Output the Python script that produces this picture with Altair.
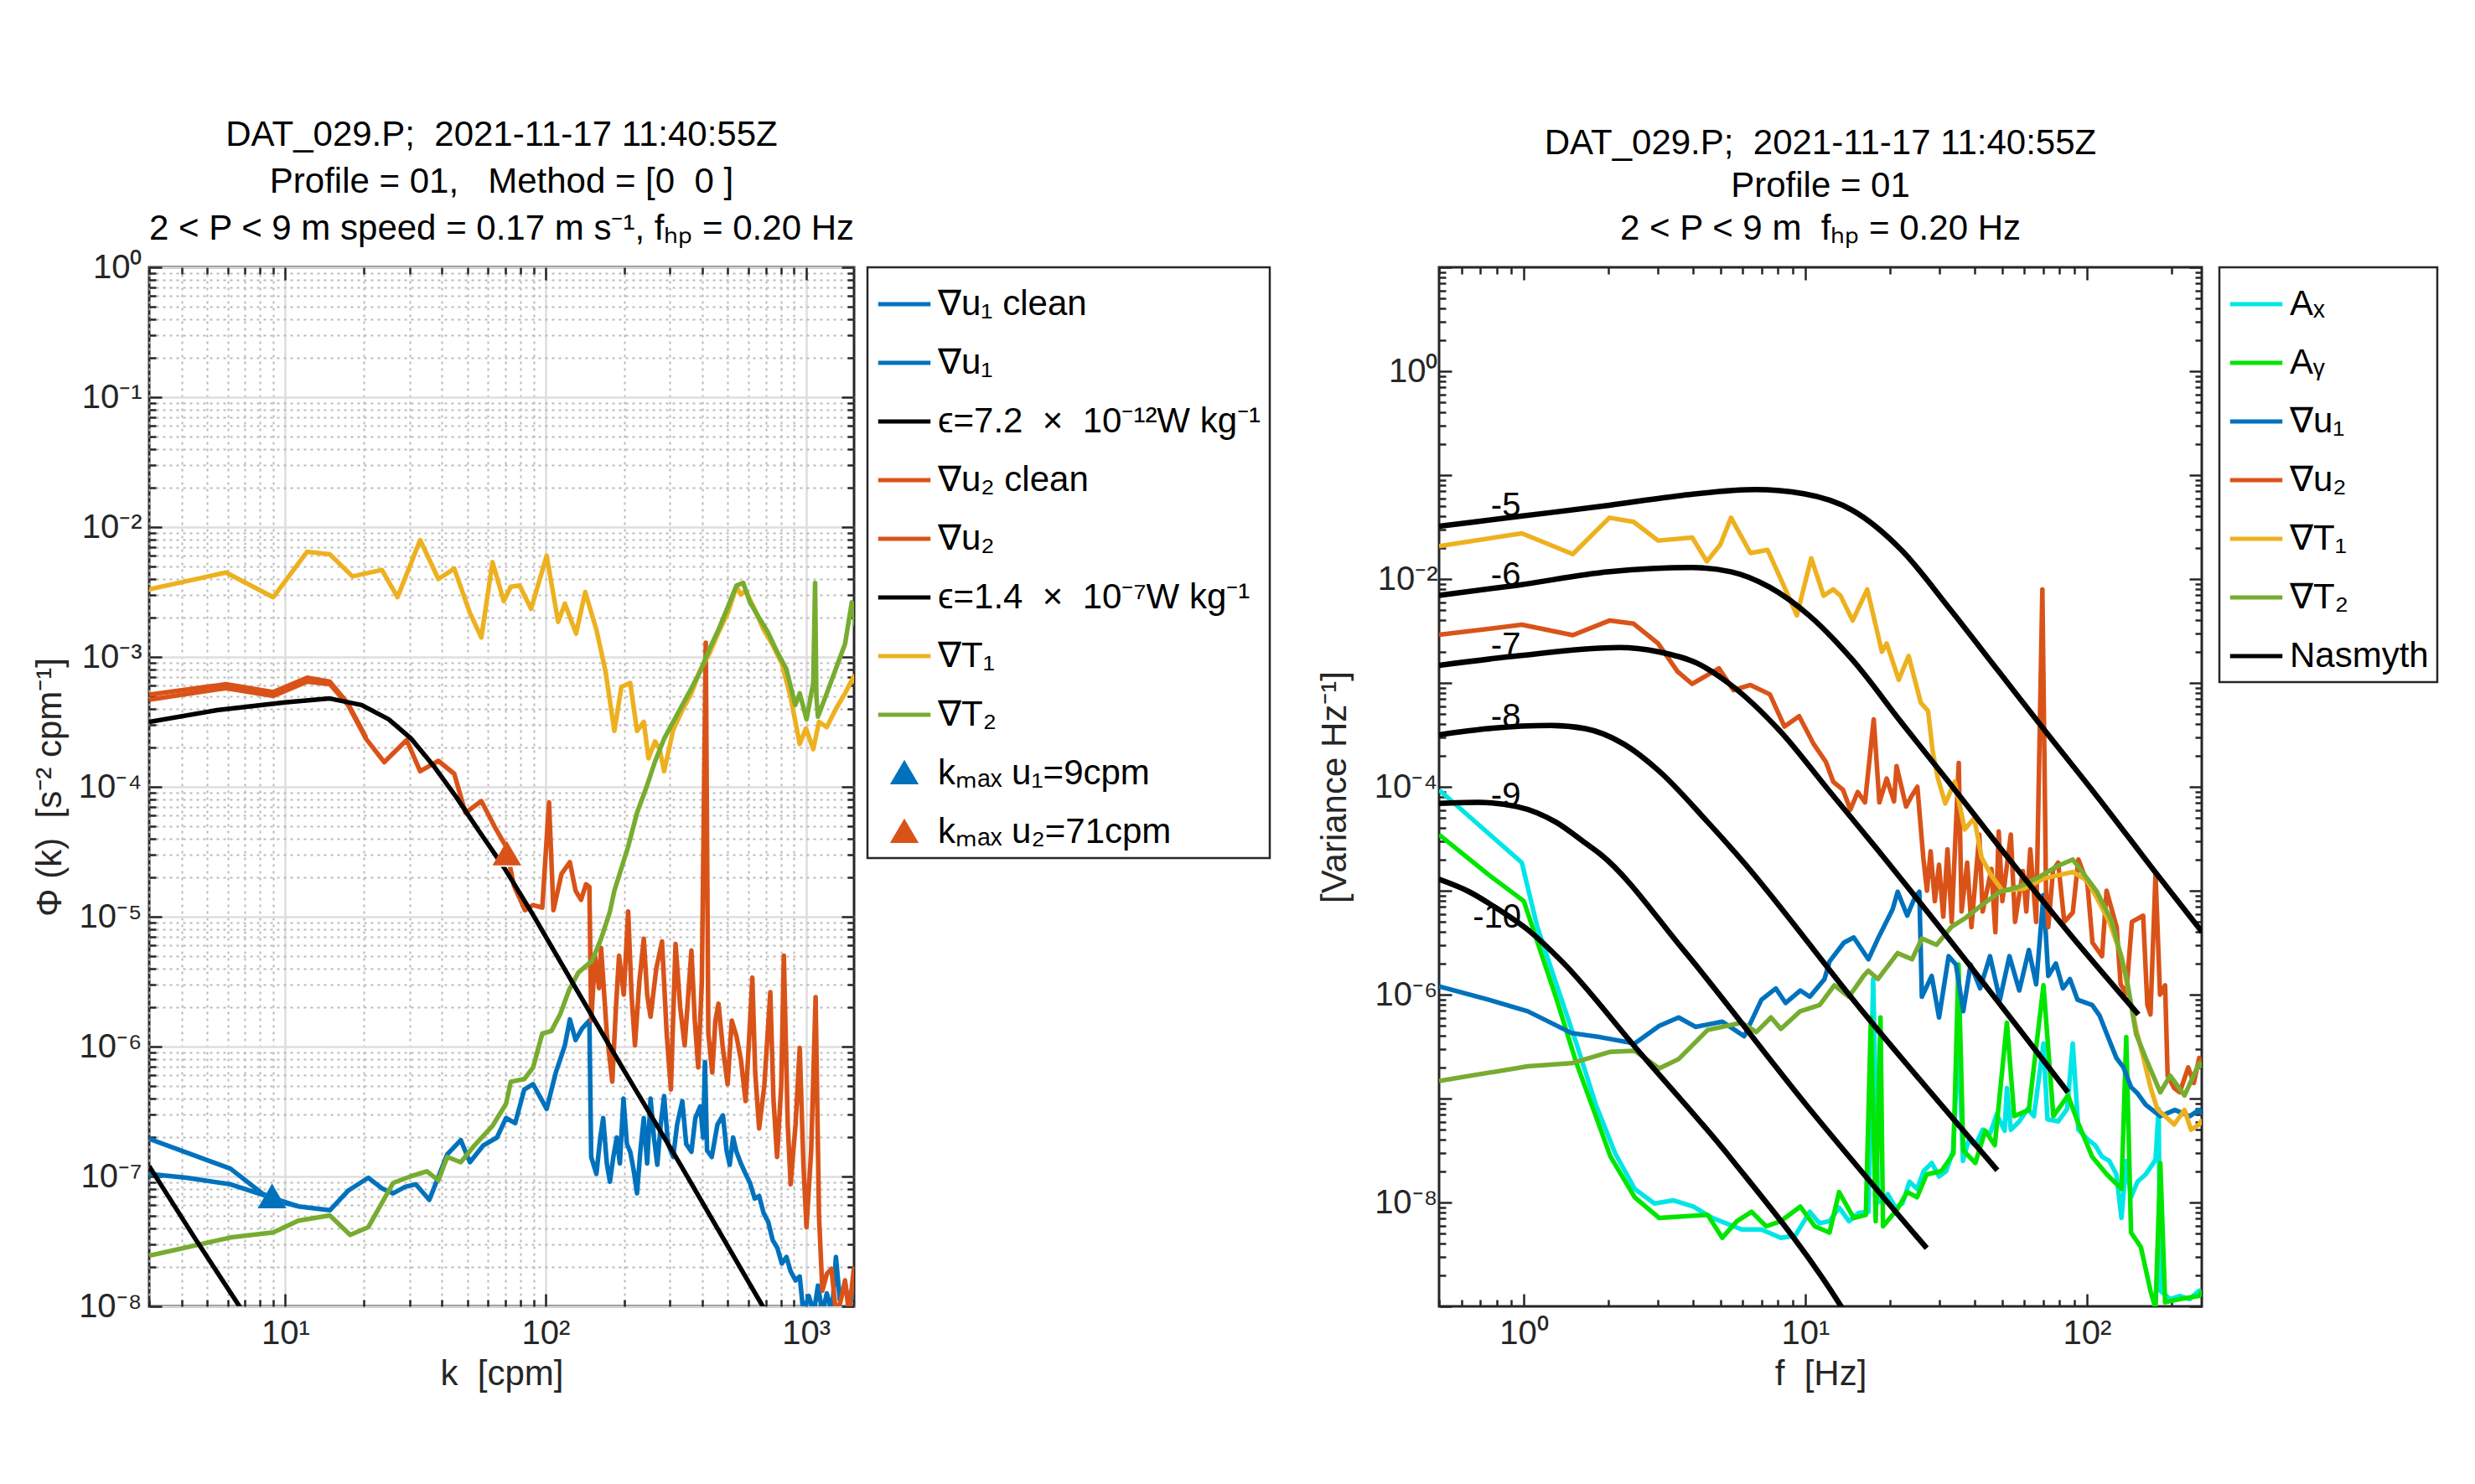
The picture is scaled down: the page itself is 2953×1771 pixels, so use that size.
import altair as alt
import pandas as pd

FONT = "Liberation Sans"
NB = "\u00a0"

# ---------------- LEFT PANEL: (log10 k [cpm], log10 Phi) ----------------
U1_CLEAN = [(0.477,-6.98),(0.62,-7.01),(0.789,-7.06),(0.911,-7.14),(1.05,-7.23),(1.171,-7.26),(1.241,-7.11),
    (1.319,-7.01),(1.37,-7.09),(1.414,-7.13),(1.46,-7.08),(1.501,-7.06),(1.553,-7.18),(1.622,-6.83),(1.674,-6.72),
    (1.709,-6.89),(1.761,-6.76),(1.813,-6.70),(1.848,-6.55),(1.883,-6.59),(1.918,-6.33),(1.952,-6.29),(2.004,-6.48),
    (2.039,-6.20),(2.074,-5.99),(2.093,-5.79),(2.115,-5.95),(2.14,-5.86),(2.168,-5.80),(2.175,-6.85),(2.195,-6.98),
    (2.21,-6.70),(2.221,-6.55),(2.235,-6.90),(2.247,-7.04),(2.26,-6.85),(2.273,-6.70),(2.285,-6.90),(2.299,-6.40),
    (2.312,-6.75),(2.325,-6.81),(2.338,-6.95),(2.351,-7.13),(2.364,-6.80),(2.377,-6.55),(2.39,-6.90),(2.403,-6.40),
    (2.416,-6.70),(2.429,-6.91),(2.442,-6.60),(2.455,-6.38),(2.47,-6.75),(2.49,-6.85),(2.505,-6.60),(2.525,-6.42),
    (2.54,-6.75),(2.56,-6.81),(2.575,-6.55),(2.594,-6.46),(2.605,-6.70),(2.612,-6.12),(2.62,-6.80),(2.638,-6.85),
    (2.66,-6.60),(2.681,-6.53),(2.695,-6.80),(2.707,-6.91),(2.72,-6.70),(2.733,-6.81),(2.75,-6.90),(2.768,-6.98),
    (2.785,-7.05),(2.803,-7.17),(2.82,-7.15),(2.837,-7.28),(2.855,-7.35),(2.872,-7.49),(2.89,-7.55),(2.907,-7.67),
    (2.925,-7.62),(2.941,-7.73),(2.96,-7.80),(2.976,-7.77),(2.99,-8.05),(3.011,-7.92),(3.03,-8.05),(3.046,-7.84),
    (3.063,-8.05),(3.08,-7.90),(3.1,-8.05),(3.115,-7.62),(3.13,-7.95),(3.15,-7.82),(3.165,-8.0),(3.184,-7.88),(3.19,-7.95)]
U1_RAW = [(0.477,-6.71),(0.789,-6.94),(0.911,-7.13),(0.99,-7.20),(1.05,-7.23)]
EPS_LOW = [(0.477,-6.92),(0.651,-7.47),(0.824,-8.0),(0.9,-8.25)]
U2_CLEAN = [(0.477,-3.33),(0.772,-3.24),(0.954,-3.30),(1.084,-3.19),(1.171,-3.21),(1.241,-3.37),(1.31,-3.63),
    (1.38,-3.81),(1.466,-3.64),(1.518,-3.88),(1.588,-3.80),(1.649,-3.90),(1.692,-4.20),(1.753,-4.11),(1.805,-4.31),
    (1.848,-4.46),(1.878,-4.76),(1.921,-4.95),(1.952,-4.91),(1.987,-4.93),(2.013,-4.12),(2.03,-4.95),(2.061,-4.67),
    (2.093,-4.58),(2.115,-4.80),(2.136,-4.87),(2.155,-4.75),(2.168,-4.77),(2.175,-5.80),(2.19,-5.30),(2.205,-5.55),
    (2.213,-5.24),(2.235,-5.90),(2.256,-6.27),(2.27,-5.70),(2.282,-5.30),(2.3,-5.60),(2.317,-4.96),(2.33,-5.60),
    (2.343,-5.99),(2.36,-5.50),(2.377,-5.17),(2.39,-5.60),(2.403,-5.77),(2.425,-5.40),(2.447,-5.19),(2.465,-5.90),
    (2.481,-6.33),(2.499,-5.21),(2.517,-5.70),(2.534,-5.99),(2.56,-5.26),(2.573,-5.80),(2.586,-6.16),(2.6,-5.50),
    (2.615,-2.89),(2.625,-5.90),(2.64,-6.20),(2.652,-5.80),(2.664,-5.67),(2.68,-6.0),(2.699,-6.29),(2.715,-5.80),
    (2.733,-5.92),(2.75,-6.10),(2.768,-6.42),(2.78,-6.0),(2.794,-5.47),(2.805,-6.20),(2.82,-6.63),(2.84,-6.30),
    (2.863,-5.58),(2.875,-6.40),(2.889,-6.85),(2.905,-6.30),(2.915,-5.30),(2.93,-6.60),(2.941,-7.06),(2.96,-6.60),
    (2.976,-6.01),(2.99,-6.90),(3.002,-7.39),(3.02,-6.80),(3.037,-5.62),(3.05,-7.30),(3.063,-7.88),(3.08,-7.75),
    (3.098,-7.71),(3.115,-8.05),(3.132,-7.97),(3.15,-7.80),(3.165,-8.05),(3.184,-7.71),(3.19,-7.90)]
U2_RAW = [(0.477,-3.29),(0.772,-3.21),(0.954,-3.27),(1.084,-3.16),(1.171,-3.19),(1.241,-3.36),(1.31,-3.62)]
EPS_HIGH = [(0.477,-3.50),(0.737,-3.41),(0.998,-3.35),(1.171,-3.32),(1.293,-3.37),(1.397,-3.48),(1.484,-3.63),
    (1.57,-3.84),(1.657,-4.08),(1.744,-4.34),(1.84,-4.62),(1.95,-4.98),(2.104,-5.51),(2.3,-6.18),(2.512,-6.89),
    (2.834,-8.0),(2.9,-8.23)]
T1_K = [(0.477,-2.48),(0.772,-2.35),(0.954,-2.54),(1.084,-2.19),(1.171,-2.21),(1.258,-2.38),(1.371,-2.33),
    (1.431,-2.54),(1.518,-2.10),(1.588,-2.40),(1.649,-2.32),(1.709,-2.66),(1.753,-2.85),(1.796,-2.27),(1.839,-2.57),
    (1.866,-2.46),(1.9,-2.45),(1.944,-2.63),(2.004,-2.22),(2.048,-2.73),(2.074,-2.59),(2.117,-2.82),(2.152,-2.50),
    (2.195,-2.79),(2.23,-3.11),(2.264,-3.57),(2.291,-3.23),(2.325,-3.20),(2.351,-3.57),(2.377,-3.50),(2.395,-3.78),
    (2.42,-3.65),(2.438,-3.71),(2.455,-3.88),(2.475,-3.70),(2.49,-3.56),(2.525,-3.41),(2.56,-3.28),(2.594,-3.10),
    (2.63,-2.97),(2.664,-2.81),(2.7,-2.66),(2.733,-2.46),(2.75,-2.52),(2.768,-2.49),(2.8,-2.62),(2.837,-2.79),
    (2.87,-2.90),(2.907,-3.05),(2.94,-3.30),(2.976,-3.67),(3.0,-3.55),(3.028,-3.71),(3.05,-3.50),(3.08,-3.54),
    (3.115,-3.40),(3.15,-3.28),(3.184,-3.15),(3.19,-3.2)]
T2_K = [(0.477,-7.61),(0.789,-7.47),(0.954,-7.43),(1.05,-7.34),(1.171,-7.30),(1.249,-7.45),(1.319,-7.39),
    (1.414,-7.05),(1.48,-7.0),(1.544,-6.96),(1.588,-7.03),(1.622,-6.85),(1.674,-6.89),(1.727,-6.76),(1.796,-6.61),
    (1.848,-6.44),(1.866,-6.27),(1.918,-6.25),(1.952,-6.16),(1.987,-5.90),(2.022,-5.88),(2.056,-5.75),(2.091,-5.56),
    (2.126,-5.43),(2.178,-5.34),(2.213,-5.17),(2.247,-4.96),(2.264,-4.80),(2.317,-4.46),(2.351,-4.20),(2.386,-4.01),
    (2.421,-3.80),(2.455,-3.63),(2.49,-3.50),(2.525,-3.37),(2.56,-3.24),(2.594,-3.11),(2.629,-2.94),(2.664,-2.79),
    (2.699,-2.62),(2.733,-2.45),(2.759,-2.43),(2.785,-2.58),(2.82,-2.70),(2.854,-2.81),(2.889,-2.96),(2.924,-3.09),
    (2.959,-3.37),(2.976,-3.28),(3.002,-3.48),(3.028,-3.20),(3.035,-2.43),(3.04,-3.30),(3.046,-3.46),(3.08,-3.28),
    (3.115,-3.09),(3.15,-2.90),(3.176,-2.58),(3.193,-2.77)]
KMAX_LOGK = [0.949, 1.851]
KMAX_LOGPHI = [-7.16, -4.52]

LEFT_SERIES = ["∇u₁ clean", "∇u₁", f"ϵ=7.2{NB}{NB}×{NB}{NB}10⁻¹²W kg⁻¹", "∇u₂ clean", "∇u₂",
               f"ϵ=1.4{NB}{NB}×{NB}{NB}10⁻⁷W kg⁻¹", "∇T₁", "∇T₂", "kₘₐₓ u₁=9cpm", "kₘₐₓ u₂=71cpm"]
LEFT_COLORS = ["#0072BD", "#0072BD", "#000000", "#D95319", "#D95319",
               "#000000", "#EDB120", "#77AC30", "#0072BD", "#D95319"]

# ---------------- RIGHT PANEL: (log10 f [Hz], log10 variance) ----------------
AX = [(-0.301,-4.03),(-0.007,-4.73),(0.048,-5.35),(0.117,-5.91),(0.187,-6.47),(0.256,-7.06),(0.325,-7.53),
    (0.394,-7.87),(0.464,-8.01),(0.532,-7.98),(0.602,-8.04),(0.671,-8.15),(0.774,-8.26),(0.844,-8.26),(0.913,-8.34),
    (0.964,-8.32),(1.016,-8.09),(1.05,-8.20),(1.086,-8.18),(1.12,-8.05),(1.155,-8.18),(1.19,-8.10),(1.224,-8.09),
    (1.241,-5.85),(1.258,-8.0),(1.293,-7.92),(1.32,-8.05),(1.345,-8.01),(1.37,-7.80),(1.397,-7.87),(1.42,-7.70),
    (1.449,-7.62),(1.475,-7.75),(1.5,-7.70),(1.525,-7.50),(1.544,-6.40),(1.56,-7.60),(1.58,-7.40),(1.604,-7.45),
    (1.63,-7.30),(1.656,-7.34),(1.68,-7.15),(1.708,-7.31),(1.716,-6.90),(1.73,-7.30),(1.76,-7.22),(1.79,-7.10),
    (1.812,-7.17),(1.846,-6.47),(1.86,-7.20),(1.898,-7.22),(1.93,-7.10),(1.95,-6.47),(1.97,-7.30),(2.002,-7.39),
    (2.03,-7.45),(2.054,-7.56),(2.08,-7.60),(2.105,-7.73),(2.123,-8.15),(2.14,-7.60),(2.157,-7.95),(2.18,-7.80),
    (2.209,-7.73),(2.244,-7.59),(2.255,-7.10),(2.261,-8.85),(2.296,-8.93),(2.33,-8.90),(2.365,-8.93),(2.399,-8.85),(2.41,-8.9)]
AY = [(-0.301,-4.46),(-0.128,-4.84),(0.0,-5.10),(0.048,-5.49),(0.117,-6.05),(0.187,-6.66),(0.256,-7.17),
    (0.308,-7.56),(0.394,-7.95),(0.481,-8.15),(0.653,-8.12),(0.705,-8.34),(0.757,-8.18),(0.809,-8.09),(0.861,-8.23),
    (0.913,-8.18),(0.982,-8.04),(1.034,-8.23),(1.086,-8.29),(1.12,-7.90),(1.172,-8.15),(1.215,-8.12),(1.233,-6.22),
    (1.25,-8.18),(1.267,-6.22),(1.276,-8.23),(1.328,-8.06),(1.362,-7.90),(1.397,-7.95),(1.431,-7.73),(1.483,-7.70),
    (1.526,-7.53),(1.544,-5.71),(1.561,-7.50),(1.604,-7.62),(1.639,-7.31),(1.673,-7.45),(1.716,-6.27),(1.742,-7.17),
    (1.794,-7.11),(1.846,-5.91),(1.881,-7.17),(1.933,-6.97),(1.967,-7.22),(2.019,-7.56),(2.071,-7.73),(2.123,-7.87),
    (2.14,-6.41),(2.157,-8.29),(2.192,-8.43),(2.226,-8.85),(2.244,-9.02),(2.261,-7.62),(2.278,-8.96),(2.33,-8.93),
    (2.399,-8.90),(2.41,-8.85)]
U1_F = [(-0.301,-5.92),(-0.124,-6.05),(0.014,-6.16),(0.17,-6.37),(0.273,-6.41),(0.394,-6.47),(0.481,-6.30),
    (0.55,-6.22),(0.61,-6.31),(0.705,-6.26),(0.783,-6.40),(0.844,-6.05),(0.895,-5.94),(0.93,-6.08),(0.982,-5.96),
    (1.016,-6.02),(1.068,-5.85),(1.086,-5.68),(1.137,-5.50),(1.172,-5.45),(1.224,-5.66),(1.258,-5.46),(1.31,-5.18),
    (1.328,-5.01),(1.362,-5.24),(1.388,-5.07),(1.405,-5.01),(1.414,-6.02),(1.449,-5.82),(1.475,-6.22),(1.509,-5.63),
    (1.535,-5.71),(1.561,-6.16),(1.587,-5.71),(1.621,-5.94),(1.656,-5.63),(1.691,-6.05),(1.725,-5.63),(1.76,-5.96),
    (1.794,-5.57),(1.82,-5.90),(1.846,-5.04),(1.863,-5.82),(1.89,-5.70),(1.915,-5.94),(1.94,-5.85),(1.967,-6.05),
    (2.019,-6.10),(2.045,-6.20),(2.071,-6.38),(2.105,-6.61),(2.13,-6.70),(2.157,-6.89),(2.18,-6.95),(2.209,-7.06),
    (2.261,-7.17),(2.313,-7.11),(2.365,-7.17),(2.399,-7.11),(2.41,-7.15)]
U2_F = [(-0.301,-2.537),(-0.007,-2.44),(0.174,-2.54),(0.304,-2.40),(0.39,-2.43),(0.477,-2.62),(0.546,-2.89),
    (0.598,-3.01),(0.693,-2.86),(0.745,-3.07),(0.805,-3.02),(0.874,-3.11),(0.926,-3.42),(0.978,-3.32),(1.03,-3.59),
    (1.073,-3.76),(1.099,-3.95),(1.134,-4.03),(1.16,-4.22),(1.186,-4.05),(1.212,-4.15),(1.243,-3.35),(1.263,-4.15),
    (1.289,-3.92),(1.315,-4.14),(1.324,-3.80),(1.358,-4.19),(1.375,-4.10),(1.398,-4.00),(1.419,-4.68),(1.432,-5.0),
    (1.445,-4.62),(1.46,-5.10),(1.475,-4.75),(1.49,-5.25),(1.505,-4.60),(1.52,-5.30),(1.545,-3.77),(1.555,-5.20),
    (1.575,-4.73),(1.59,-5.35),(1.618,-4.46),(1.63,-5.20),(1.661,-4.79),(1.675,-5.40),(1.687,-4.43),(1.70,-5.10),
    (1.73,-4.46),(1.745,-5.30),(1.773,-4.81),(1.785,-5.20),(1.799,-4.60),(1.82,-5.30),(1.842,-2.10),(1.855,-5.0),
    (1.863,-5.35),(1.88,-4.80),(1.898,-4.73),(1.92,-5.30),(1.95,-5.21),(1.97,-4.70),(2.002,-4.93),(2.02,-5.50),
    (2.054,-5.63),(2.07,-5.0),(2.106,-5.35),(2.12,-5.90),(2.14,-5.99),(2.16,-5.30),(2.2,-5.24),(2.215,-6.10),
    (2.226,-6.19),(2.244,-4.84),(2.26,-6.0),(2.278,-5.91),(2.287,-6.78),(2.31,-6.90),(2.33,-6.94),(2.36,-6.70),
    (2.38,-6.85),(2.399,-6.61),(2.41,-6.70)]
T1_F = [(-0.301,-1.683),(-0.007,-1.56),(0.174,-1.76),(0.304,-1.41),(0.39,-1.45),(0.477,-1.63),(0.598,-1.60),
    (0.65,-1.83),(0.698,-1.67),(0.736,-1.41),(0.805,-1.75),(0.866,-1.72),(0.926,-2.08),(0.97,-2.35),(1.021,-1.80),
    (1.065,-2.16),(1.099,-2.10),(1.125,-2.16),(1.168,-2.40),(1.22,-2.10),(1.272,-2.70),(1.289,-2.62),(1.332,-2.97),
    (1.367,-2.74),(1.41,-3.19),(1.436,-3.27),(1.453,-3.67),(1.471,-3.92),(1.497,-4.16),(1.531,-3.95),(1.566,-4.41),
    (1.6,-4.30),(1.626,-4.68),(1.66,-4.85),(1.7,-5.0),(1.777,-4.98),(1.85,-4.88),(1.95,-4.82),(2.0,-4.90),
    (2.036,-5.07),(2.08,-5.30),(2.123,-5.63),(2.15,-6.0),(2.175,-6.33),(2.2,-6.60),(2.226,-6.89),(2.25,-7.10),
    (2.278,-7.17),(2.31,-7.25),(2.347,-7.11),(2.37,-7.30),(2.399,-7.25),(2.41,-7.20)]
T2_F = [(-0.301,-6.83),(0.014,-6.69),(0.17,-6.66),(0.308,-6.55),(0.394,-6.54),(0.481,-6.71),(0.55,-6.62),
    (0.653,-6.34),(0.774,-6.27),(0.826,-6.36),(0.878,-6.22),(0.913,-6.33),(0.982,-6.16),(1.051,-6.10),(1.103,-5.91),
    (1.155,-6.02),(1.207,-5.82),(1.224,-5.77),(1.258,-5.85),(1.328,-5.60),(1.379,-5.66),(1.414,-5.46),(1.466,-5.52),
    (1.518,-5.35),(1.57,-5.26),(1.621,-5.15),(1.691,-5.01),(1.76,-4.96),(1.829,-4.87),(1.898,-4.76),(1.95,-4.70),
    (1.984,-4.82),(2.036,-5.01),(2.088,-5.29),(2.14,-5.82),(2.175,-6.38),(2.209,-6.61),(2.261,-6.94),(2.296,-6.78),
    (2.347,-6.97),(2.399,-6.66),(2.41,-6.70)]
NASMYTH = {
    "-5": [(-0.301,-1.493),(-0.024,-1.40),(0.304,-1.29),(0.563,-1.195),(0.823,-1.14),(0.995,-1.18),(1.168,-1.34),
           (1.341,-1.72),(1.514,-2.29),(1.687,-2.89),(1.86,-3.49),(2.033,-4.08),(2.24,-4.81),(2.41,-5.40)],
    "-6": [(-0.301,-2.157),(-0.024,-2.06),(0.304,-1.93),(0.598,-1.89),(0.736,-1.93),(0.874,-2.08),(1.013,-2.35),
           (1.168,-2.78),(1.341,-3.38),(1.514,-3.97),(1.687,-4.57),(1.95,-5.45),(2.183,-6.19)],
    "-7": [(-0.301,-2.83),(-0.024,-2.74),(0.339,-2.66),(0.477,-2.70),(0.615,-2.81),(0.736,-3.02),(0.909,-3.46),
           (1.082,-4.03),(1.255,-4.60),(1.5,-5.43),(1.933,-6.94)],
    "-8": [(-0.301,-3.50),(-0.128,-3.44),(0.097,-3.41),(0.218,-3.44),(0.356,-3.59),(0.477,-3.84),(0.65,-4.33),
           (0.766,-4.68),(1.2,-6.15),(1.682,-7.69)],
    "-9": [(-0.301,-4.16),(-0.163,-4.15),(-0.024,-4.19),(0.114,-4.34),(0.218,-4.54),(0.273,-4.65),(0.567,-5.57),
           (1.0,-7.05),(1.431,-8.44)],
    "-10": [(-0.301,-4.89),(-0.194,-5.01),(-0.09,-5.18),(0.014,-5.375),(0.135,-5.68),(0.394,-6.50),(0.74,-7.59),
            (1.12,-8.97),(1.15,-9.1)],
}
NASMYTH_LABELS = ["-5", "-6", "-7", "-8", "-9", "-10"]
NASMYTH_LABEL_LOGF = [-0.064, -0.064, -0.064, -0.064, -0.064, -0.095]
NASMYTH_LABEL_LOGV = [-1.295, -1.97, -2.645, -3.33, -4.09, -5.26]

RIGHT_SERIES = ["Aₓ", "Aᵧ", "∇u₁", "∇u₂", "∇T₁", "∇T₂", "Nasmyth"]
RIGHT_COLORS = ["#00E6E6", "#00E600", "#0072BD", "#D95319", "#EDB120", "#77AC30", "#000000"]

# axis tick positions
LEFT_X_TICKS = [3, 4, 5, 6, 7, 8, 9, 10, 20, 30, 40, 50, 60, 70, 80, 90, 100,
                200, 300, 400, 500, 600, 700, 800, 900, 1000]
LEFT_Y_EXPS = [-8, -7, -6, -5, -4, -3, -2, -1, 0]
RIGHT_X_TICKS = [0.5, 0.6, 0.7, 0.8, 0.9, 1, 2, 3, 4, 5, 6, 7, 8, 9, 10,
                 20, 30, 40, 50, 60, 70, 80, 90, 100, 200]
RIGHT_Y_EXPS = [-9, -8, -7, -6, -5, -4, -3, -2, -1, 0, 1]
RIGHT_Y_LABELED = [-8, -6, -4, -2, 0]


def decade_ticks(exps):
    vals = []
    for e in exps[:-1]:
        vals += [float(f"{m}e{e}") for m in range(1, 10)]
    vals.append(float(f"1e{exps[-1]}"))
    return vals


def frame(pairs, xname, yname, series, **extra):
    d = pd.DataFrame({xname: [10 ** a for a, _ in pairs], yname: [10 ** b for _, b in pairs]})
    d["series"] = series
    for key, val in extra.items():
        d[key] = val
    return d


MINOR = "abs(log(datum.value)/LN10 - round(log(datum.value)/LN10)) > 0.001"
SUP = str.maketrans("-0123456789", "⁻⁰¹²³⁴⁵⁶⁷⁸⁹")
TICK_STYLE = dict(
    domain=False, offset=-15, tickSize=15, tickWidth=2.5, tickColor="#262626",
    tickDash={"condition": {"test": MINOR, "value": [0.01, 7, 8, 0]}, "value": [1, 0]},
)


def label_expr(exps):
    parts = [f"abs(log(datum.value)/LN10 - ({n})) < 0.001 ? '10{str(n).translate(SUP)}'" for n in exps]
    return " : ".join(parts) + " : ''"


def log_axis(values, exps, title, grid, label_pad, title_pad):
    return alt.Axis(
        values=values, labelExpr=label_expr(exps), title=title, grid=grid,
        gridColor={"condition": {"test": MINOR, "value": "#b9b9b9"}, "value": "#dedede"},
        gridDash={"condition": {"test": MINOR, "value": [3, 5]}, "value": [1, 0]},
        gridWidth={"condition": {"test": MINOR, "value": 2}, "value": 2.5},
        labelFont=FONT, labelFontSize=40, labelColor="#262626", labelPadding=label_pad,
        labelOverlap=False, labelFlush=False,
        titleFont=FONT, titleFontSize=42, titleFontWeight="normal", titleColor="#262626",
        titlePadding=title_pad, **TICK_STYLE)


def box_axis(values, orient):
    return alt.Axis(values=values, orient=orient, labels=False, title=None, grid=False, **TICK_STYLE)


LW = 5.5

# ---------------- LEFT PANEL ----------------
lxs = alt.Scale(type="log", domain=[3, 1530], nice=False)
lys = alt.Scale(type="log", domain=[1e-8, 1], nice=False)
lx = alt.X("k:Q", scale=lxs, axis=log_axis(LEFT_X_TICKS, [1, 2, 3], f"k{NB}{NB}[cpm]", True, 12, 8))
ly = alt.Y("phi:Q", scale=lys,
           axis=log_axis(decade_ticks(LEFT_Y_EXPS), LEFT_Y_EXPS, f"Φ (k){NB}{NB}[s⁻² cpm⁻¹]", True, 9, 12))

left_lines = [
    (U1_RAW, 1), (U1_CLEAN, 0), (U2_RAW, 4), (U2_CLEAN, 3),
    (T1_K, 6), (T2_K, 7), (EPS_LOW, 2), (EPS_HIGH, 5),
]
left_layers = []
for pairs, idx in left_lines:
    left_layers.append(
        alt.Chart(frame(pairs, "k", "phi", LEFT_SERIES[idx]))
        .mark_line(strokeWidth=LW, clip=True, strokeJoin="round", color=LEFT_COLORS[idx])
        .encode(x=lx, y=ly)
    )

kmax = pd.DataFrame({"k": [10 ** v for v in KMAX_LOGK], "phi": [10 ** v for v in KMAX_LOGPHI],
                     "series": LEFT_SERIES[8:]})
TRI = "M0,-0.36L-0.41,0.34L0.41,0.34Z"
left_layers.append(
    alt.Chart(kmax).mark_point(filled=True, shape=TRI, size=7800, color="white", opacity=1, strokeWidth=0)
    .encode(x=lx, y=ly)
)
leg_left = alt.Legend(title=None, orient="right", offset=14, labelLimit=900)
left_layers.append(
    alt.Chart(kmax).mark_point(filled=True, size=3900, opacity=1, strokeWidth=5)
    .encode(
        x=lx, y=ly,
        color=alt.Color("series:N", scale=alt.Scale(domain=LEFT_SERIES, range=LEFT_COLORS), legend=leg_left),
        stroke=alt.Stroke("series:N", scale=alt.Scale(domain=LEFT_SERIES, range=LEFT_COLORS), legend=leg_left),
        shape=alt.Shape("series:N", scale=alt.Scale(domain=LEFT_SERIES, range=["stroke"] * 8 + [TRI, TRI]),
                        legend=leg_left),
    )
)
left_box = alt.Chart(kmax).mark_point(opacity=0).encode(
    x=alt.X("k:Q", scale=lxs, axis=box_axis(LEFT_X_TICKS, "top")),
    y=alt.Y("phi:Q", scale=lys, axis=box_axis(decade_ticks(LEFT_Y_EXPS), "right")),
)

left = alt.layer(alt.layer(*left_layers), left_box).resolve_axis(x="independent", y="independent").properties(
    width=841, height=1240,
    title=alt.TitleParams(
        text=[f"DAT_029.P;{NB}{NB}2021-11-17 11:40:55Z", f"Profile = 01,{NB}{NB} Method = [0{NB}{NB}0 ]",
              "2 < P < 9 m speed = 0.17 m s⁻¹, fₕₚ = 0.20 Hz"],
        font=FONT, fontSize=42, fontWeight="normal", color="black", anchor="middle",
        frame="group", offset=4, lineHeight=56),
)

# ---------------- RIGHT PANEL ----------------
rxs = alt.Scale(type="log", domain=[0.5, 256], nice=False)
rys = alt.Scale(type="log", domain=[1e-9, 10], nice=False)
rx = alt.X("f:Q", scale=rxs, axis=log_axis(RIGHT_X_TICKS, [0, 1, 2], f"f{NB}{NB}[Hz]", False, 12, 8))
ry = alt.Y("v:Q", scale=rys,
           axis=log_axis(decade_ticks(RIGHT_Y_EXPS), RIGHT_Y_LABELED, "[Variance Hz⁻¹]", False, 2, 25))
rcolor_scale = alt.Scale(domain=RIGHT_SERIES, range=RIGHT_COLORS)
leg_right = alt.Legend(title=None, orient="right", offset=19, labelLimit=900)

right_layers = []
for pairs, name in [(AX, RIGHT_SERIES[0]), (AY, RIGHT_SERIES[1]), (U1_F, RIGHT_SERIES[2]),
                    (U2_F, RIGHT_SERIES[3]), (T1_F, RIGHT_SERIES[4]), (T2_F, RIGHT_SERIES[5])]:
    right_layers.append(
        alt.Chart(frame(pairs, "f", "v", name)).mark_line(strokeWidth=LW, clip=True, strokeJoin="round")
        .encode(x=rx, y=ry, color=alt.Color("series:N", scale=rcolor_scale, legend=leg_right))
    )
nas = pd.concat([frame(p, "f", "v", "Nasmyth", curve=c) for c, p in NASMYTH.items()], ignore_index=True)
right_layers.append(
    alt.Chart(nas).mark_line(strokeWidth=6.5, clip=True, interpolate="monotone")
    .encode(x=rx, y=ry, detail="curve:N",
            color=alt.Color("series:N", scale=rcolor_scale, legend=leg_right))
)
lab = pd.DataFrame({"f": [10 ** v for v in NASMYTH_LABEL_LOGF], "v": [10 ** v for v in NASMYTH_LABEL_LOGV],
                    "label": NASMYTH_LABELS})
right_layers.append(
    alt.Chart(lab).mark_text(font=FONT, fontSize=40, color="black", align="center", baseline="middle")
    .encode(x=rx, y=ry, text="label:N")
)
right_box = alt.Chart(lab).mark_point(opacity=0).encode(
    x=alt.X("f:Q", scale=rxs, axis=box_axis(RIGHT_X_TICKS, "top")),
    y=alt.Y("v:Q", scale=rys, axis=box_axis(decade_ticks(RIGHT_Y_EXPS), "right")),
)

right = alt.layer(alt.layer(*right_layers), right_box).resolve_axis(x="independent", y="independent").properties(
    width=910, height=1240,
    title=alt.TitleParams(
        text=[f"DAT_029.P;{NB}{NB}2021-11-17 11:40:55Z", "Profile = 01", f"2 < P < 9 m{NB}{NB}fₕₚ = 0.20 Hz"],
        font=FONT, fontSize=42, fontWeight="normal", color="black", anchor="middle",
        frame="group", offset=4, lineHeight=51),
)

chart = (
    alt.hconcat(left, right, spacing=51)
    .resolve_scale(color="independent", stroke="independent", shape="independent")
    .properties(padding={"left": 28, "top": 130, "right": 10, "bottom": 10}, background="white")
    .configure(font=FONT)
    .configure_view(stroke="#262626", strokeWidth=3)
    .configure_legend(labelFont=FONT, labelFontSize=42, labelColor="black", symbolSize=3900,
                      symbolStrokeWidth=5, padding=10, rowPadding=15, labelOffset=6,
                      strokeColor="#262626", strokeWidth=2.5, fillColor="white", symbolType="stroke")
)

chart.save("out.html", embed_options={"renderer": "svg", "actions": False})
